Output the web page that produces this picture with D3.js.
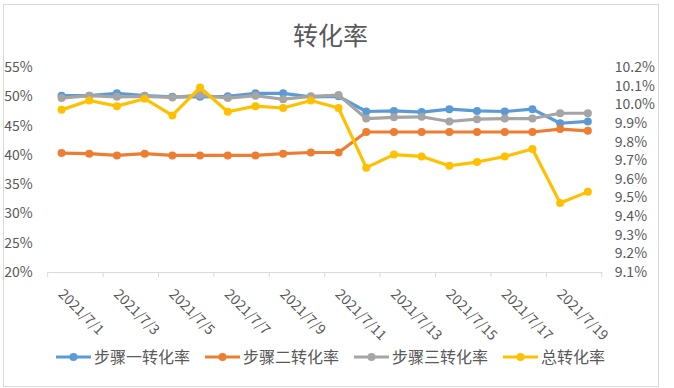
<!DOCTYPE html>
<html>
<head>
<meta charset="utf-8">
<script src="https://cdn.jsdelivr.net/npm/d3@7"></script>
<style>
  body { margin: 0; background: #fff; }
  text { font-family: "Noto Sans CJK SC", "Liberation Sans", sans-serif; fill: #595959; }
</style>
</head>
<body>
<svg id="chart" width="674" height="388"></svg>
<script>
const dates = ["2021/7/1", "2021/7/2", "2021/7/3", "2021/7/4", "2021/7/5", "2021/7/6", "2021/7/7",
  "2021/7/8", "2021/7/9", "2021/7/10", "2021/7/11", "2021/7/12", "2021/7/13", "2021/7/14",
  "2021/7/15", "2021/7/16", "2021/7/17", "2021/7/18", "2021/7/19", "2021/7/20"];

// left axis series (%)
const step1 = [50.1, 50.1, 50.5, 50.1, 49.9, 49.9, 50.0, 50.5, 50.5, 49.9, 50.0,
  47.4, 47.5, 47.3, 47.8, 47.5, 47.4, 47.8, 45.4, 45.7];
const step2 = [40.3, 40.2, 39.9, 40.2, 39.9, 39.9, 39.9, 39.9, 40.2, 40.4, 40.4,
  43.9, 43.9, 43.9, 43.9, 43.9, 43.9, 43.9, 44.4, 44.1];
const step3 = [49.7, 50.1, 49.9, 50.0, 49.8, 50.2, 49.7, 50.1, 49.5, 50.0, 50.2,
  46.2, 46.4, 46.5, 45.7, 46.1, 46.2, 46.2, 47.1, 47.1];
// right axis series (%)
const total = [9.97, 10.02, 9.99, 10.03, 9.94, 10.09, 9.96, 9.99, 9.98, 10.02, 9.98,
  9.66, 9.73, 9.72, 9.67, 9.69, 9.72, 9.76, 9.47, 9.53];

const leftTicks = [20, 25, 30, 35, 40, 45, 50, 55];
const rightTicks = [9.1, 9.2, 9.3, 9.4, 9.5, 9.6, 9.7, 9.8, 9.9, 10.0, 10.1, 10.2];
const labelDates = dates.filter((d, i) => i % 2 === 0);

const seriesNames = ["步骤一转化率", "步骤二转化率", "步骤三转化率", "总转化率"];
const colors = ["#5B9BD5", "#ED7D31", "#A5A5A5", "#FFC000"];

const svg = d3.select("#chart"),
      width = +svg.attr("width"),
      height = +svg.attr("height"),
      plot = { left: 47.7, right: 601.7, top: 67, bottom: 272 };

svg.append("rect")
    .attr("x", 3.5).attr("y", 4.5)
    .attr("width", 655).attr("height", 382)
    .attr("fill", "#fff")
    .attr("stroke", "#d9d9d9");

svg.append("text")
    .attr("x", 330.5)
    .attr("y", 45)
    .attr("text-anchor", "middle")
    .style("font-size", "25px")
    .text("转化率");

const xScale = d3.scaleBand().domain(dates).range([plot.left, plot.right]);
const yLeft = d3.scaleLinear().domain([20, 55]).range([plot.bottom, plot.top]);
const yRight = d3.scaleLinear().domain([9.1, 10.2]).range([plot.bottom, plot.top]);
const cx = d => xScale(d) + xScale.bandwidth() / 2;

// y axes (labels only)
const leftAxis = svg.append("g")
    .attr("transform", `translate(${plot.left},0)`)
    .call(d3.axisLeft(yLeft).tickValues(leftTicks).tickFormat(d => d + "%").tickSize(0).tickPadding(15));
const rightAxis = svg.append("g")
    .attr("transform", `translate(${plot.right},0)`)
    .call(d3.axisRight(yRight).tickValues(rightTicks).tickFormat(d => d.toFixed(1) + "%").tickSize(0).tickPadding(13));
[leftAxis, rightAxis].forEach(a => {
  a.select(".domain").remove();
  a.selectAll("text").style("font-size", "14px").style("font-family", null).attr("fill", "#595959");
});

// x axis
const xAxis = svg.append("g")
    .attr("transform", `translate(0,${plot.bottom})`)
    .call(d3.axisBottom(xScale).tickValues(labelDates).tickSize(0));
xAxis.select(".domain").attr("stroke", "#d9d9d9");
xAxis.selectAll(".tick text")
    .style("font-size", "14px").style("font-family", null).attr("fill", "#595959")
    .attr("text-anchor", "start")
    .attr("dy", null)
    .attr("y", 0)
    .attr("transform", "translate(-4,23) rotate(45)");

const boundaries = dates.filter((d, i) => i % 2 === 0).map(d => xScale(d)).concat([plot.right]);
xAxis.selectAll(".bound")
    .data(boundaries)
    .enter()
    .append("line")
    .attr("class", "bound")
    .attr("x1", d => d).attr("x2", d => d)
    .attr("y1", 0).attr("y2", 5)
    .attr("stroke", "#d9d9d9");

// series
const series = [
  { values: step1, y: yLeft },
  { values: step2, y: yLeft },
  { values: step3, y: yLeft },
  { values: total, y: yRight }
];

series.forEach((s, k) => {
  const pts = dates.map((d, i) => [cx(d), s.y(s.values[i])]);
  svg.append("path")
      .attr("d", d3.line()(pts))
      .attr("fill", "none")
      .attr("stroke", colors[k])
      .attr("stroke-width", 3.2)
      .attr("stroke-linejoin", "round");
  svg.append("g").selectAll("circle")
      .data(pts)
      .enter()
      .append("circle")
      .attr("cx", d => d[0])
      .attr("cy", d => d[1])
      .attr("r", 4)
      .attr("fill", colors[k]);
});

// legend
const legend = svg.append("g").attr("transform", "translate(0,357)");
const items = legend.selectAll("g")
    .data(seriesNames)
    .enter()
    .append("g");
items.append("line")
    .attr("x1", 0).attr("x2", 35)
    .attr("stroke", (d, i) => colors[i])
    .attr("stroke-width", 3.2);
items.append("circle")
    .attr("cx", 17.5)
    .attr("r", 4)
    .attr("fill", (d, i) => colors[i]);
items.append("text")
    .attr("x", 38)
    .attr("dy", "0.35em")
    .style("font-size", "16px")
    .text(d => d);

let offset = 0;
const widths = [];
items.each(function() {
  widths.push(38 + this.querySelector("text").getComputedTextLength());
});
const totalWidth = d3.sum(widths) + 15 * (widths.length - 1);
offset = 330.5 - totalWidth / 2;
items.attr("transform", (d, i) => {
  const x = offset;
  offset += widths[i] + 15;
  return `translate(${x},0)`;
});
</script>
</body>
</html>
